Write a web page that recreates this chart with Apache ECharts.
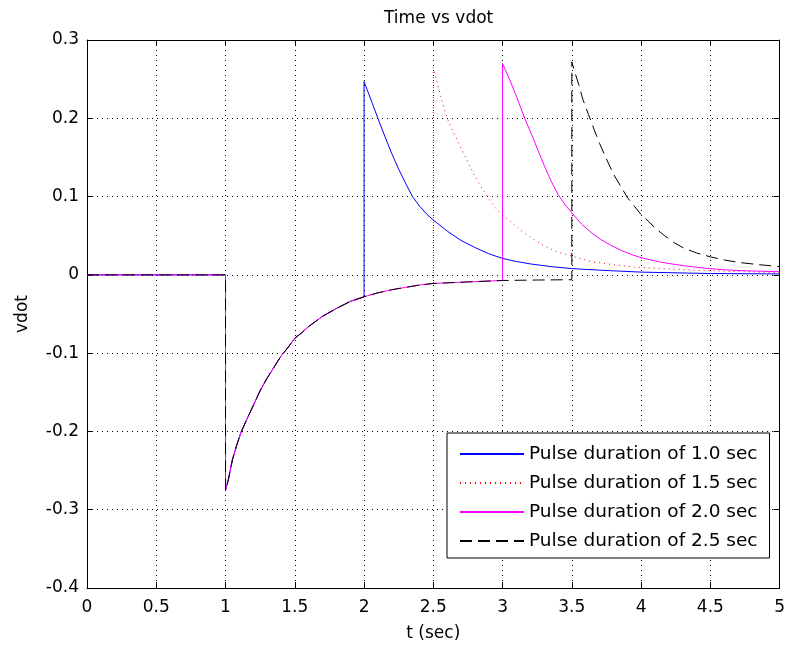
<!DOCTYPE html>
<html><head><meta charset="utf-8">
<script src="https://cdn.jsdelivr.net/npm/echarts@6/dist/echarts.min.js"></script>
<style>html,body{margin:0;padding:0;background:#fff}#c{width:788px;height:647px}</style>
</head><body><div id="c"></div>
<script>
// Shared response (before each pulse ends)
const sharedT = [0, 1, 1, 1.02, 1.05, 1.08, 1.11, 1.15, 1.2, 1.25, 1.3, 1.35, 1.4, 1.45, 1.5, 1.55, 1.6, 1.7, 1.8, 1.9, 2.0, 2.1, 2.2, 2.3, 2.4, 2.5, 2.75, 3.0, 3.25, 3.5];
const sharedV = [0, 0, -0.275, -0.262, -0.236, -0.218, -0.202, -0.186, -0.167, -0.148, -0.132, -0.118, -0.104, -0.093, -0.081, -0.074, -0.066, -0.053, -0.043, -0.034, -0.028, -0.023, -0.019, -0.016, -0.013, -0.011, -0.009, -0.0072, -0.0066, -0.0062];

// Pulse end times
const pulseEnds = [2.0, 2.5, 3.0, 3.5];

// Response after pulse end, per series
const p10T = [2.0, 2.03, 2.06, 2.1, 2.15, 2.2, 2.25, 2.3, 2.35, 2.4, 2.45, 2.5, 2.6, 2.7, 2.8, 2.9, 3.0, 3.1, 3.2, 3.35, 3.5, 3.7, 4.0, 4.5, 5.0];
const p10V = [0.247, 0.233, 0.219, 0.2, 0.177, 0.155, 0.135, 0.117, 0.1, 0.088, 0.078, 0.07, 0.056, 0.044, 0.035, 0.027, 0.021, 0.017, 0.014, 0.0105, 0.008, 0.006, 0.0035, 0.0017, 0.0012];

const p15T = [2.5, 2.53, 2.56, 2.6, 2.65, 2.7, 2.75, 2.8, 2.85, 2.9, 2.96, 3.0, 3.07, 3.13, 3.2, 3.3, 3.4, 3.5, 3.64, 3.8, 3.95, 4.3, 4.7, 5.0];
const p15V = [0.265, 0.244, 0.224, 0.2, 0.18, 0.162, 0.144, 0.126, 0.111, 0.097, 0.083, 0.077, 0.066, 0.057, 0.048, 0.037, 0.029, 0.024, 0.017, 0.013, 0.01, 0.0065, 0.0042, 0.003];

const p20T = [3.0, 3.05, 3.1, 3.16, 3.22, 3.26, 3.3, 3.35, 3.4, 3.45, 3.5, 3.57, 3.64, 3.71, 3.78, 3.86, 3.93, 4.0, 4.07, 4.15, 4.22, 4.34, 4.46, 4.6, 4.75, 5.0];
const p20V = [0.27, 0.25, 0.228, 0.2, 0.175, 0.157, 0.14, 0.12, 0.103, 0.09, 0.079, 0.065, 0.054, 0.045, 0.038, 0.031, 0.026, 0.022, 0.019, 0.016, 0.014, 0.011, 0.0085, 0.0065, 0.0052, 0.004];

const p25T = [3.5, 3.52, 3.55, 3.58, 3.62, 3.66, 3.7, 3.75, 3.8, 3.85, 3.9, 3.95, 4.0, 4.05, 4.1, 4.17, 4.24, 4.31, 4.4, 4.5, 4.6, 4.7, 4.85, 5.0];
const p25V = [0.272, 0.26, 0.243, 0.224, 0.205, 0.186, 0.168, 0.148, 0.129, 0.114, 0.099, 0.088, 0.077, 0.069, 0.06, 0.05, 0.041, 0.034, 0.028, 0.023, 0.019, 0.016, 0.013, 0.0106];

const seriesNames = ['Pulse duration of 1.0 sec', 'Pulse duration of 1.5 sec', 'Pulse duration of 2.0 sec', 'Pulse duration of 2.5 sec'];
const xTicks = [0, 0.5, 1, 1.5, 2, 2.5, 3, 3.5, 4, 4.5, 5];
const yTicks = [-0.4, -0.3, -0.2, -0.1, 0, 0.1, 0.2, 0.3];

function build(idx, postT, postV) {
  const end = pulseEnds[idx];
  const d = [];
  for (let i = 0; i < sharedT.length; i++) {
    if (sharedT[i] <= end) d.push([sharedT[i], sharedV[i]]);
  }
  for (let i = 0; i < postT.length; i++) d.push([postT[i], postV[i]]);
  return d;
}

const FONT = 'DejaVu Sans';
const styles = [
  {color: '#0000ff', type: 'solid'},
  {color: '#ff0000', type: [1, 4]},
  {color: '#ff00ff', type: 'solid'},
  {color: '#000000', type: [12, 6]}
];
const posts = [[p10T, p10V], [p15T, p15V], [p20T, p20V], [p25T, p25V]];

const chart = echarts.init(document.getElementById('c'), null, {renderer: 'canvas'});
const axisCommon = {
  axisLine: {show: true, onZero: false, lineStyle: {color: '#000', width: 1}},
  axisTick: {show: true, inside: true, length: 6, lineStyle: {color: '#000', width: 1}},
};
chart.setOption({
  animation: false,
  backgroundColor: '#fff',
  title: {text: 'Time vs vdot', left: 379, top: 5,
    textStyle: {fontFamily: FONT, fontSize: 17, fontWeight: 'normal', color: '#000'}},
  grid: {left: 87, right: 6, top: 40, bottom: 59},
  xAxis: [{
    type: 'value', min: xTicks[0], max: xTicks[xTicks.length - 1], interval: 0.5, position: 'bottom',
    ...axisCommon,
    axisLabel: {color: '#000', fontFamily: FONT, fontSize: 17, margin: 11,
      formatter: v => String(+v.toFixed(1))},
    splitLine: {show: true, lineStyle: {color: '#000', width: 1, type: [1, 4]}},
    name: 't (sec)', nameLocation: 'middle', nameGap: 37,
    nameTextStyle: {color: '#000', fontFamily: FONT, fontSize: 17}
  }, {
    type: 'value', min: xTicks[0], max: xTicks[xTicks.length - 1], interval: 0.5, position: 'top',
    ...axisCommon, axisLabel: {show: false}, splitLine: {show: false}
  }],
  yAxis: [{
    type: 'value', min: yTicks[0], max: yTicks[yTicks.length - 1], interval: 0.1, position: 'left',
    ...axisCommon,
    axisLabel: {color: '#000', fontFamily: FONT, fontSize: 17, margin: 8,
      formatter: v => String(+v.toFixed(1))},
    splitLine: {show: true, lineStyle: {color: '#000', width: 1, type: [1, 4]}},
    name: 'vdot', nameLocation: 'middle', nameGap: 56, nameRotate: 90,
    nameTextStyle: {color: '#000', fontFamily: FONT, fontSize: 17}
  }, {
    type: 'value', min: yTicks[0], max: yTicks[yTicks.length - 1], interval: 0.1, position: 'right',
    ...axisCommon, axisLabel: {show: false}, splitLine: {show: false}
  }],
  legend: {
    orient: 'vertical', left: 447, top: 433,
    backgroundColor: '#fff', borderColor: '#000', borderWidth: 1, borderRadius: 0,
    padding: [11, 12, 7, 12], itemWidth: 64, itemHeight: 2, itemGap: 9,
    itemStyle: {opacity: 0},
    textStyle: {fontFamily: FONT, fontSize: 18.5, color: '#000', lineHeight: 20},
    data: seriesNames
  },
  series: seriesNames.map((n, i) => ({
    name: n, type: 'line', xAxisIndex: 0, yAxisIndex: 0,
    data: build(i, posts[i][0], posts[i][1]),
    showSymbol: false, symbol: 'none', smooth: false,
    lineStyle: {color: styles[i].color, width: 1, type: styles[i].type},
    itemStyle: {color: styles[i].color},
    z: 2 + i
  }))
});
</script></body></html>
